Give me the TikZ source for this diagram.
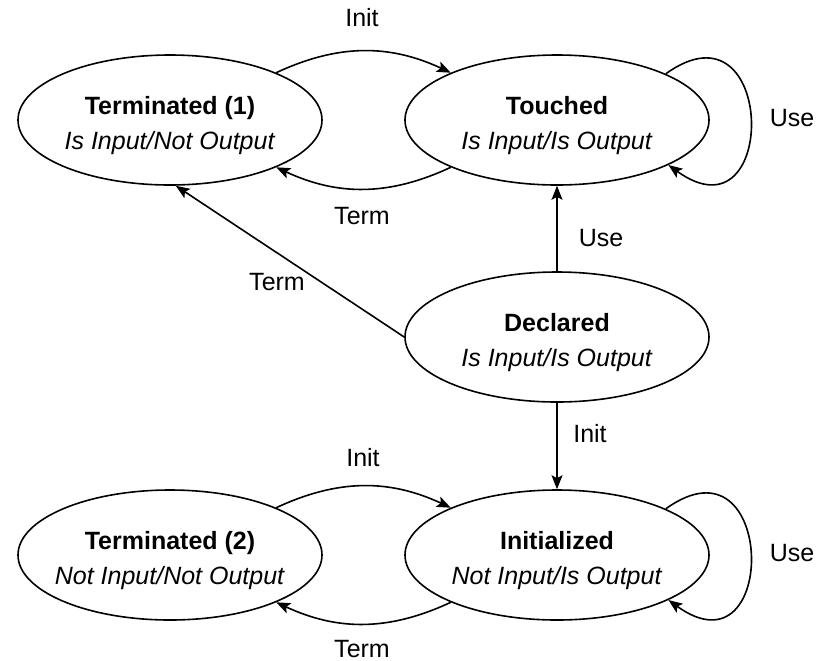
\documentclass[tikz,border=0pt]{standalone}
\usepackage{fontspec}
\setmainfont{Liberation Sans}
\usetikzlibrary{shapes.geometric,arrows.meta}
\newcommand{\statelines}[2]{\rule{0pt}{15pt}\textbf{#1}\\\textit{#2}}
\tikzset{
  state/.style={draw,ellipse,line width=.8pt,minimum width=152pt,minimum height=65pt,
    inner xsep=-6pt,inner ysep=0pt,align=center,font=\fontsize{12.5}{17.5}\selectfont},
  lbl/.style={font=\fontsize{12.5}{15}\selectfont},
  tr/.style={-{Stealth[length=7pt,width=5.5pt,inset=1.5pt]},line width=.8pt}
}
\begin{document}
\begin{tikzpicture}[x=.5pt,y=-.5pt]
\useasboundingbox (0,0) rectangle (819,660);
%states
\node[state] (term1) at (170,120) {\statelines{Terminated (1)}{Is Input/Not Output}};
\node[state] (touched) at (557,120) {\statelines{Touched}{Is Input/Is Output}};
\node[state] (declared) at (557,337) {\statelines{Declared}{Is Input/Is Output}};
\node[state] (term2) at (170,555) {\statelines{Terminated (2)}{Not Input/Not Output}};
\node[state] (init) at (557,555) {\statelines{Initialized}{Not Input/Is Output}};
%upper pair
\draw[tr] (term1.24) to[bend left=25] (touched.156);
\draw[tr] (touched.204) to[bend left=25] (term1.-24);
\node[lbl] (initA) at (362,18) {Init};
\node[lbl] (termA) at (362,216) {Term};
%touched loop
\draw[tr] (touched.23) .. controls +(111,-80) and +(111,80) .. (touched.-22);
\node[lbl] (useA) at (792,118) {Use};
%from declared
\draw[tr] (declared.north) -- (touched.south);
\node[lbl] (useB) at (601,238) {Use};
\draw[tr] (declared.west) -- (term1.275);
\node[lbl] (termB) at (277,282) {Term};
\draw[tr] (declared.south) -- (init.north);
\node[lbl] (initB) at (590,434) {Init};
%lower pair
\draw[tr] (term2.24) to[bend left=25] (init.156);
\draw[tr] (init.204) to[bend left=25] (term2.-24);
\node[lbl] (initC) at (363,458) {Init};
\node[lbl] (termC) at (362,649) {Term};
%initialized loop
\draw[tr] (init.23) .. controls +(111,-80) and +(111,80) .. (init.-22);
\node[lbl] (useC) at (792,553) {Use};
\end{tikzpicture}
\end{document}
